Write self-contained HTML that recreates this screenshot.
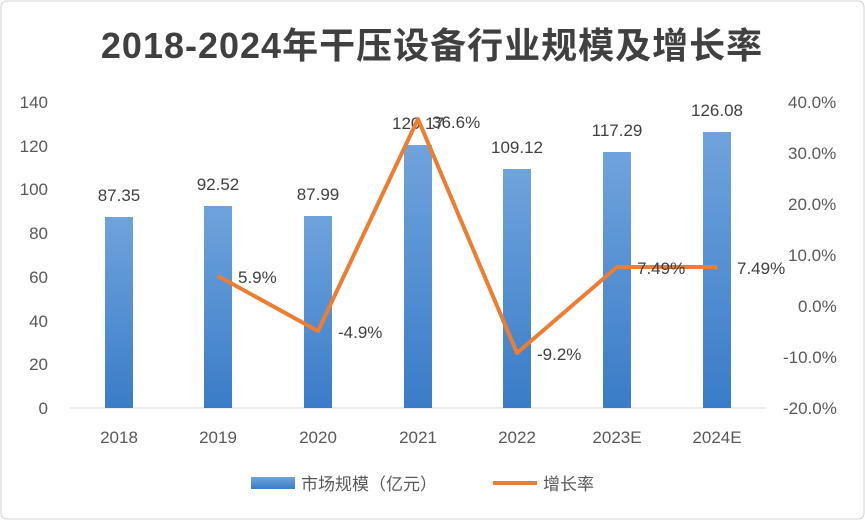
<!DOCTYPE html>
<html><head><meta charset="utf-8"><style>
body{margin:0;background:#fff;}
svg{display:block;font-family:"Liberation Sans","Noto Sans CJK SC",sans-serif;}
</style></head><body>
<svg width="865" height="520" viewBox="0 0 865 520">
<defs><linearGradient id="g" x1="0" y1="0" x2="0" y2="1"><stop offset="0" stop-color="#6fa3dc"/><stop offset="1" stop-color="#3a7cc8"/></linearGradient></defs>
<rect x="1" y="1" width="863" height="518" rx="6" fill="#fff" stroke="#d0d0d0"/>
<text x="432" y="58" text-anchor="middle" font-size="36" font-weight="bold" fill="#404040" letter-spacing="1">2018-2024年干压设备行业规模及增长率</text>
<g font-size="17" fill="#595959" text-anchor="end">
<text x="48" y="414">0</text><text x="48" y="370">20</text><text x="48" y="327">40</text><text x="48" y="283">60</text><text x="48" y="239">80</text><text x="48" y="195">100</text><text x="48" y="152">120</text><text x="48" y="108">140</text>
</g>
<g font-size="17" fill="#595959">
<text x="788" y="108">40.0%</text><text x="788" y="159">30.0%</text><text x="788" y="210">20.0%</text><text x="788" y="261">10.0%</text><text x="798" y="312">0.0%</text><text x="783" y="363">-10.0%</text><text x="783" y="414">-20.0%</text>
</g>
<line x1="70" y1="408" x2="766" y2="408" stroke="#d9d9d9"/>
<g fill="url(#g)">
<rect x="105" y="217" width="28" height="191"/>
<rect x="204" y="206" width="28" height="202"/>
<rect x="304" y="216" width="28" height="192"/>
<rect x="404" y="145" width="28" height="263"/>
<rect x="503" y="169" width="28" height="239"/>
<rect x="603" y="152" width="28" height="256"/>
<rect x="703" y="132" width="28" height="276"/>
</g>
<g font-size="17" fill="#404040" text-anchor="middle">
<text x="119" y="201">87.35</text><text x="218" y="190">92.52</text><text x="318" y="200">87.99</text><text x="418" y="129">120.17</text><text x="517" y="153">109.12</text><text x="617" y="136">117.29</text><text x="717" y="116">126.08</text>
</g>
<polyline points="218,276 318,331 418,119 517,353 617,267 717,267" fill="none" stroke="#ed7d31" stroke-width="4" stroke-linejoin="round"/>
<g font-size="17" fill="#404040">
<text x="238" y="283">5.9%</text><text x="338" y="338">-4.9%</text><text x="432" y="128">36.6%</text><text x="537" y="360">-9.2%</text><text x="637" y="274">7.49%</text><text x="737" y="274">7.49%</text>
</g>
<g font-size="17" fill="#595959" text-anchor="middle">
<text x="119" y="443">2018</text><text x="218" y="443">2019</text><text x="318" y="443">2020</text><text x="418" y="443">2021</text><text x="517" y="443">2022</text><text x="617" y="443">2023E</text><text x="717" y="443">2024E</text>
</g>
<rect x="251" y="477" width="44" height="12" fill="url(#g)"/>
<text x="301" y="490" font-size="17" fill="#595959">市场规模（亿元）</text>
<line x1="493" y1="483" x2="537" y2="483" stroke="#ed7d31" stroke-width="4"/>
<text x="543" y="490" font-size="17" fill="#595959">增长率</text>
</svg>
</body></html>
